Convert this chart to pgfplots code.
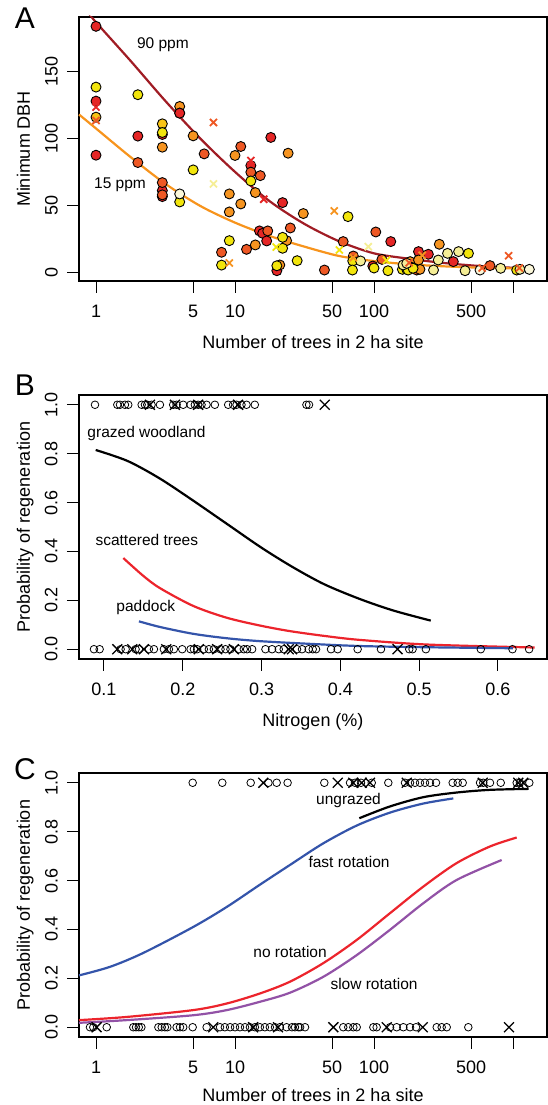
\documentclass[border=0pt]{standalone}
\usepackage{pgfplots}
\pgfplotsset{compat=1.18}
\usepackage{fontspec}
\setmainfont{Liberation Sans}
\definecolor{cR}{RGB}{229,38,38}
\definecolor{cOR}{RGB}{238,88,36}
\definecolor{cO}{RGB}{246,148,32}
\definecolor{cYo}{RGB}{249,196,22}
\definecolor{cY}{RGB}{242,229,12}
\definecolor{cP}{RGB}{245,238,150}
\definecolor{cW}{RGB}{252,248,218}
\definecolor{c90}{RGB}{160,28,36}
\definecolor{c15}{RGB}{247,148,29}
\definecolor{lBlue}{RGB}{52,84,170}
\definecolor{lRed}{RGB}{236,36,44}
\definecolor{lPurp}{RGB}{146,82,166}
\newcommand\fs{\fontsize{18}{21}\selectfont}
\newcommand\fa{\fontsize{15.5}{18}\selectfont}
\newcommand\fL{\fontsize{30}{34}\selectfont}
\pgfplotsset{
  panel/.style={
    scale only axis, width=468pt, height=264pt, anchor=south west,
    axis line style={line width=1.2pt}, clip=false,
    tick align=outside, major tick length=12pt,
    major tick style={line width=1pt, black},
    xtick pos=left, ytick pos=left, xminorticks=false, yminorticks=false,
    ticklabel style={font=\fs}, label style={font=\fs},
    xticklabel style={anchor=base, yshift=-24.5pt},
    yticklabel style={xshift=-9.5pt, rotate=90, anchor=base},
    ylabel style={at={(axis description cs:-0.1047,0.5)}, anchor=base},
    xlabel style={at={(axis description cs:0.5,-0.254)}, anchor=base},
  },
  pt/.style={only marks, mark=*, mark size=5pt,
    mark options={fill=#1, draw=black, line width=0.9pt}},
  xa/.style={only marks, mark=x, mark size=5pt,
    mark options={draw=#1, line width=1.8pt}},
  oc/.style={only marks, mark=o, mark size=3.8pt,
    mark options={draw=black, line width=0.8pt}},
  xb/.style={only marks, mark=x, mark size=7pt,
    mark options={draw=black, line width=1.3pt}},
  fit/.style={smooth, no marks, line width=2.2pt, #1},
}
\begin{document}
\begin{tikzpicture}[x=1pt,y=1pt]
\path[use as bounding box] (0,0) rectangle (548,1105);

% ---------- A ----------
\begin{axis}[panel, at={(79pt,824pt)}, xmode=log,
  xmin=0.7545, xmax=1756, ymin=-6.7, ymax=191,
  xtick={1,5,10,50,100,500,1000}, xticklabels={1,5,10,50,100,500,{}},
  ytick={0,50,100,150}, yticklabels={0,50,100,150},
  xlabel={Number of trees in 2 ha site}, ylabel={Minimum DBH}]
\addplot[pt=cR] coordinates {(1,184)(1,128)(1,87.5)(2,101.8)(3,103)(3,61)(3,56.5)
  (13,79.7)(15,30.8)(15.8,29)(16.9,23.3)(18.1,100.8)(20,1)(22,52)(98,4.5)(132,22.8)
  (209,15.3)(246,13.3)(372,7.8)};
\addplot[pt=cOR] coordinates {(2,82)(3,67)(3,57.8)(6,88.5)(8,14.8)(11,94)(12.1,17)
  (13,74.8)(15.2,72.2)(17.2,30.8)(25,33)(44,1.5)(60,22.8)(71,12)(103,30)(114,9.5)
  (203,1.5)(683,4.8)};
\addplot[pt=cO] coordinates {(3,93.5)(4,124)(5,102)(9.1,58.5)(9.1,45)(10,87.3)(11,51)
  (14,59.5)(14,20.3)(21,5.3)(23.5,23.5)(24.1,89)(31,43.8)(182,7.8)(214,2)(209,9)(295,20.8)};
\addplot[pt=cYo] coordinates {(1,116)(3,111)(4,119)};
\addplot[pt=cR] coordinates {(4,119)};
\addplot[pt=cY] coordinates {(1,138.5)(2,132.8)(3,104.5)(4,52.5)(5,76.5)(8,5.2)(9.1,23.5)
  (13,68.2)(20,4.7)(22,26)(22,17.8)(28,8.5)(65,41.5)(70.3,8.3)(70,1.5)(100,3)(126,1)
  (160,2)(172,2)(182,4)(176,1.5)(191,2.8)(478,14)(1063,1.5)};
\addplot[pt=cP] coordinates {(80,8.3)(162,5.3)(172,6.5)(268,1.5)(290,9)(338,14)(406,15.3)
  (452,1)(815,2.8)(1122,2)};
\addplot[pt=cW] coordinates {(4,58.5)(579,1.5)(1310,2)};
\addplot[fit=c90] coordinates {(0.95,190)(1,187)(1.778,158)(3.162,128)(5.623,100)(10,75)
  (17.78,53)(31.62,36)(56.23,23)(100,14)(177.8,10)(316.2,6.8)(562.3,4.6)(1000,3.2)(1318,2.7)};
\addplot[fit=c15] coordinates {(0.7545,118)(1,107.5)(1.778,86)(3.162,66)(5.623,49.5)
  (10,37)(17.78,27)(31.62,19)(56.23,12)(100,8.2)(177.8,5.8)(316.2,4.3)(562.3,3.3)
  (1000,2.7)(1300,2.4)};
\addplot[xa=cR] coordinates {(1,123.5)(13,83.5)(16.1,54.5)};
\addplot[xa=cOR] coordinates {(1,113.5)(7,112)(179,7)(600,3)(930,12.2)(1110,3)};
\addplot[xa=cO] coordinates {(9.1,6.8)(51.8,45.8)(71,10.8)(222,12.5)};
\addplot[xa=cY] coordinates {(19.8,18.7)(56.3,16.5)(123,8.8)};
\addplot[xa=cP] coordinates {(7,66)(91,19)};
\node[font=\fa] at (axis cs:3.03,170) {90 ppm};
\node[font=\fa] at (axis cs:1.488,65.3) {15 ppm};
\end{axis}

% ---------- B ----------
\begin{axis}[panel, at={(79pt,446pt)},
  xmin=0.0683, xmax=0.6622, ymin=-0.04, ymax=1.04,
  xtick={0.1,0.2,0.3,0.4,0.5,0.6}, xticklabels={0.1,0.2,0.3,0.4,0.5,0.6},
  ytick={0,0.2,0.4,0.6,0.8,1}, yticklabels={0.0,0.2,0.4,0.6,0.8,1.0},
  xlabel={Nitrogen (\%)}, ylabel={Probability of regeneration}]
\addplot[oc] coordinates {(0.0886,1)(0.1169,1)(0.1203,1)(0.1266,1)(0.1308,1)(0.1478,1)
  (0.152,1)(0.1549,1)(0.1604,1)(0.171,1)(0.1878,1)(0.1921,1)(0.2005,1)(0.2099,1)(0.2153,1)
  (0.2195,1)(0.2238,1)(0.2302,1)(0.2407,1)(0.2576,1)(0.2639,1)(0.2682,1)(0.2745,1)
  (0.2809,1)(0.2914,1)(0.3569,1)(0.3602,1)};
\addplot[xb] coordinates {(0.1583,1)(0.19,1)(0.2195,1)(0.2702,1)(0.3801,1)};
\addplot[oc] coordinates {(0.0873,0)(0.0945,0)(0.1211,0)(0.1275,0)(0.1401,0)(0.1444,0)
  (0.157,0)(0.1634,0)(0.176,0)(0.1824,0)(0.1887,0)(0.1993,0)(0.2099,0)(0.2141,0)(0.2183,0)
  (0.2267,0)(0.2331,0)(0.2394,0)(0.2479,0)(0.2542,0)(0.2605,0)(0.2711,0)(0.2774,0)
  (0.2816,0)(0.288,0)(0.3049,0)(0.3133,0)(0.3218,0)(0.3281,0)(0.345,0)(0.3513,0)
  (0.3598,0)(0.3649,0)(0.3691,0)(0.3881,0)(0.3966,0)(0.4219,0)(0.4515,0)(0.4874,0)
  (0.4916,0)(0.5085,0)(0.5782,0)(0.6184,0)(0.6395,0)};
\addplot[xb] coordinates {(0.1169,0)(0.1359,0)(0.1507,0)(0.179,0)(0.2204,0)(0.2436,0)
  (0.2648,0)(0.3345,0)(0.3387,0)(0.4726,0)};
\addplot[fit=black] coordinates {(0.0895,0.815)(0.13,0.77)(0.17,0.70)(0.21,0.615)
  (0.255,0.515)(0.30,0.415)(0.34,0.335)(0.38,0.265)(0.425,0.205)(0.4675,0.158)(0.5147,0.117)};
\addplot[fit=lRed] coordinates {(0.1245,0.373)(0.1499,0.300)(0.171,0.250)(0.2133,0.177)
  (0.2555,0.129)(0.2977,0.097)(0.336,0.074)(0.383,0.053)(0.425,0.038)(0.511,0.019)(0.6465,0.007)};
\addplot[fit=lBlue] coordinates {(0.1444,0.114)(0.171,0.091)(0.2133,0.063)(0.2555,0.045)
  (0.2977,0.033)(0.361,0.022)(0.425,0.013)(0.511,0.008)(0.6188,0.004)};
\node[font=\fa, anchor=west] at (axis cs:0.0746,0.8816) {grazed woodland};
\node[font=\fa, anchor=west] at (axis cs:0.0848,0.445) {scattered trees};
\node[font=\fa, anchor=west] at (axis cs:0.1114,0.171) {paddock};
\end{axis}

% ---------- C ----------
\begin{axis}[panel, at={(79pt,68pt)}, xmode=log,
  xmin=0.7545, xmax=1756, ymin=-0.04, ymax=1.04,
  xtick={1,5,10,50,100,500,1000}, xticklabels={1,5,10,50,100,500,{}},
  ytick={0,0.2,0.4,0.6,0.8,1}, yticklabels={0.0,0.2,0.4,0.6,0.8,1.0},
  xlabel style={at={(axis description cs:0.5,-0.245)}},
  xlabel={Number of trees in 2 ha site}, ylabel={Probability of regeneration}]
\addplot[oc] coordinates {(4.96,1)(8.10,1)(12.97,1)(17.4,1)(19.95,1)(23.9,1)(43.9,1)
  (67.2,1)(73.0,1)(80.6,1)(96.3,1)(126.7,1)(167.1,1)(181.6,1)(197.2,1)(214.2,1)(232.7,1)
  (252.8,1)(279.3,1)(368.2,1)(400,1)(434.6,1)(579,1)(611,1)(683,1)(816,1)(1063,1)
  (1122,1)(1310,1)};
\addplot[xb] coordinates {(15.98,1)(54.8,1)(71.0,1)(81.5,1)(93.6,1)(171.9,1)(605,1)
  (1092,1)(1186,1)};
\addplot[oc] coordinates {(0.905,0)(0.956,0)(1.194,0)(1.855,0)(1.94,0)(2.03,0)(2.12,0)
  (2.81,0)(2.97,0)(3.13,0)(3.26,0)(3.80,0)(4.02,0)(4.24,0)(4.96,0)(6.25,0)(7.80,0)
  (8.45,0)(9.22,0)(10.0,0)(10.86,0)(11.8,0)(12.8,0)(13.9,0)(15.1,0)(16.4,0)(17.8,0)
  (19.4,0)(21.0,0)(23.5,0)(25.7,0)(27.0,0)(28.6,0)(29.4,0)(31.9,0)(60.1,0)(65.3,0)
  (71.0,0)(75.1,0)(98.9,0)(104.5,0)(130.4,0)(145.6,0)(162.6,0)(181.6,0)(200.6,0)
  (282.6,0)(306.8,0)(333.5,0)(476.8,0)};
\addplot[xb] coordinates {(1.01,0)(6.98,0)(13.5,0)(20.4,0)(51,0)(123.4,0)(224,0)(935,0)};
\addplot[fit=lBlue] coordinates {(0.7545,0.212)(1.26,0.247)(2.19,0.304)(5,0.41)
  (8.72,0.492)(15.1,0.583)(25.5,0.668)(43.1,0.752)(75.1,0.825)(130.4,0.878)(226,0.915)(372,0.936)};
\addplot[fit=black] coordinates {(78.4,0.855)(130,0.903)(226,0.941)(392,0.96)(680,0.971)(1293,0.975)};
\addplot[fit=lRed] coordinates {(0.7545,0.029)(1.66,0.042)(5,0.07)(8.72,0.097)(15.1,0.138)
  (24.8,0.186)(43.1,0.262)(75.1,0.357)(130,0.466)(226,0.575)(392,0.671)
  (680,0.739)(1063,0.776)};
\addplot[fit=lPurp] coordinates {(0.7545,0.018)(1.66,0.029)(5,0.049)(8.72,0.07)
  (15.1,0.104)(24.8,0.141)(43.1,0.206)(75.1,0.295)(130,0.398)(226,0.507)(392,0.602)(829,0.684)};
\node[font=\fa] at (axis cs:65.5,0.926) {ungrazed};
\node[font=\fa] at (axis cs:66.1,0.676) {fast rotation};
\node[font=\fa] at (axis cs:24.9,0.307) {no rotation};
\node[font=\fa] at (axis cs:100,0.176) {slow rotation};
\end{axis}

\node[font=\fL] at (25,1087) {A};
\node[font=\fL] at (25,720) {B};
\node[font=\fL] at (25,336) {C};
\end{tikzpicture}
\end{document}
